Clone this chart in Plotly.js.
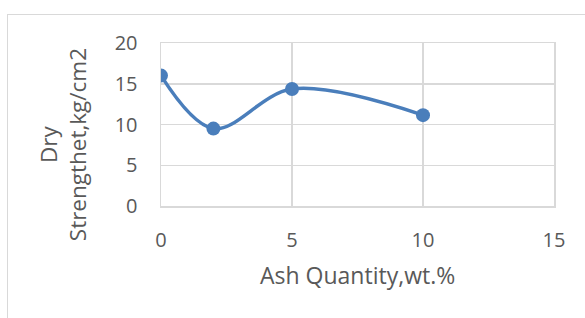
<!DOCTYPE html>
<html>
<head>
<meta charset="utf-8">
<script src="https://cdn.plot.ly/plotly-3.0.1.min.js"></script>
<style>
html,body{margin:0;padding:0;background:#fff;}
#frame{position:absolute;left:7px;top:14px;width:700px;height:400px;border:1.5px solid #d9d9d9;box-sizing:border-box;}
#chart{position:absolute;left:0;top:0;width:585px;height:318px;}
</style>
</head>
<body>
<div id="frame"></div>
<div id="chart"></div>
<script>
const ashQuantity = [0, 2, 5, 10];
const dryStrength = [16, 9.5, 14.35, 11.15];
const xTicks = [0, 5, 10, 15];
const yTicks = [0, 5, 10, 15, 20];
const xTitle = 'Ash Quantity,wt.%';
const yTitle = 'Dry<br>Strengthet,kg/cm2';

const fontFam = '"Open Sans", sans-serif';
const L = 161, R = 554.5, T = 43.3, B = 205.7;

const trace = {
  x: ashQuantity, y: dryStrength,
  type: 'scatter', mode: 'lines+markers',
  line: {color: '#4a7ebb', width: 3.5, shape: 'spline', smoothing: 1},
  marker: {color: '#4a7ebb', size: 14},
  hoverinfo: 'none'
};

const layout = {
  width: 585, height: 318,
  margin: {l: L, r: 585 - R, t: T, b: 318 - B, pad: 0},
  paper_bgcolor: 'rgba(0,0,0,0)', plot_bgcolor: 'rgba(0,0,0,0)',
  showlegend: false,
  font: {family: fontFam, color: '#595959', size: 20},
  xaxis: {
    range: [0, 15], tickvals: xTicks, ticktext: xTicks.map(String),
    showgrid: true, gridcolor: '#d9d9d9', gridwidth: 1.5,
    showline: true, linecolor: '#d9d9d9', linewidth: 1.5, mirror: true,
    zeroline: false, ticks: 'outside', ticklen: 15, tickcolor: 'rgba(0,0,0,0)',
    tickfont: {family: fontFam, color: '#595959', size: 20}
  },
  yaxis: {
    range: [0, 20], tickvals: yTicks, ticktext: yTicks.map(String),
    showgrid: true, gridcolor: '#d9d9d9', gridwidth: 1.5,
    showline: true, linecolor: '#d9d9d9', linewidth: 1.5, mirror: true,
    zeroline: false, ticks: 'outside', ticklen: 18, tickcolor: 'rgba(0,0,0,0)',
    tickfont: {family: fontFam, color: '#595959', size: 20}
  },
  annotations: [
    {text: xTitle, xref: 'paper', yref: 'paper',
     x: (357.5 - L) / (R - L), y: (B - 274) / (B - T),
     xanchor: 'center', yanchor: 'middle', showarrow: false,
     font: {family: fontFam, color: '#595959', size: 23}},
    {text: yTitle, xref: 'paper', yref: 'paper', textangle: -90,
     x: (63 - L) / (R - L), y: (B - 145) / (B - T),
     xanchor: 'center', yanchor: 'middle', showarrow: false,
     font: {family: fontFam, color: '#595959', size: 22.5}}
  ]
};

Plotly.newPlot('chart', [trace], layout, {staticPlot: true, displayModeBar: false});
</script>
</body>
</html>
